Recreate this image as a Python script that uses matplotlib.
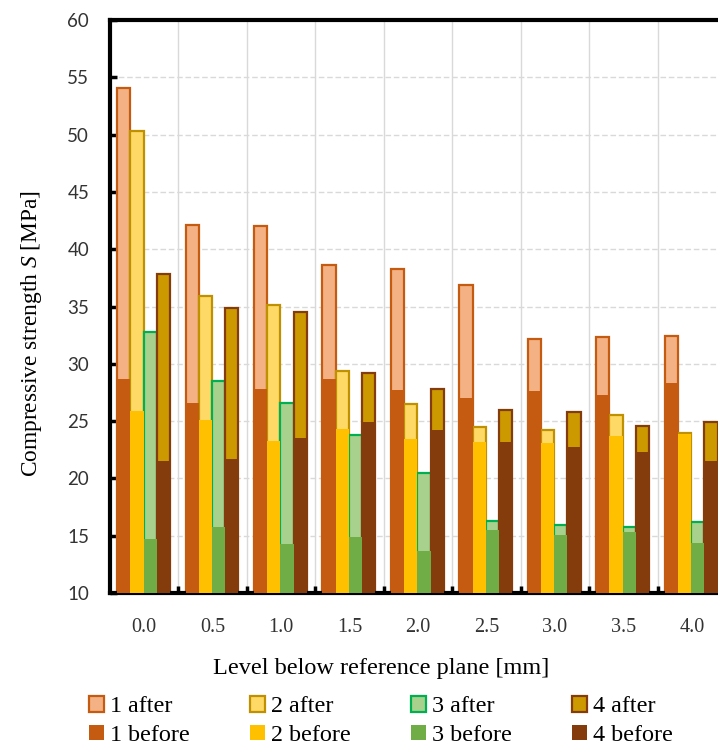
import matplotlib.pyplot as plt
import numpy as np

plt.rcParams['mathtext.fontset'] = 'custom'
plt.rcParams['mathtext.it'] = 'Liberation Serif:italic'
plt.rcParams['mathtext.rm'] = 'Liberation Serif'

levels = ['0.0', '0.5', '1.0', '1.5', '2.0', '2.5', '3.0', '3.5', '4.0']

# compressive strength after / before, for specimens 1-4
after_1 = [54.1, 42.1, 42.0, 38.6, 38.3, 36.9, 32.2, 32.3, 32.4]
after_2 = [50.3, 35.9, 35.1, 29.4, 26.5, 24.5, 24.2, 25.5, 24.0]
after_3 = [32.8, 28.5, 26.6, 23.8, 20.5, 16.3, 15.9, 15.8, 16.2]
after_4 = [37.8, 34.9, 34.5, 29.2, 27.8, 26.0, 25.8, 24.6, 24.9]

before_1 = [28.7, 26.6, 27.8, 28.7, 27.7, 27.0, 27.6, 27.3, 28.3]
before_2 = [25.9, 25.1, 23.3, 24.3, 23.4, 23.2, 23.1, 23.7, 23.9]
before_3 = [14.7, 15.8, 14.3, 14.9, 13.7, 15.5, 15.1, 15.3, 14.4]
before_4 = [21.5, 21.7, 23.5, 24.9, 24.2, 23.2, 22.7, 22.3, 21.5]

after = [after_1, after_2, after_3, after_4]
before = [before_1, before_2, before_3, before_4]

after_fill = ['#F4B183', '#FFD966', '#A9D18E', '#CC9900']
after_edge = ['#C55A11', '#BF9000', '#00B050', '#843C0C']
before_fill = ['#C55A11', '#FFC000', '#70AD47', '#843C0C']

fig = plt.figure(figsize=(7.18, 7.46), dpi=100)
ax = fig.add_axes([110 / 718, 153 / 746, 616 / 718, 573 / 746])

x = np.arange(len(levels))
w = 0.193
offsets = (np.arange(4) - 1.5) * w - 0.01

handles = []
for i in range(4):
    ha = ax.bar(x + offsets[i], np.array(after[i]) - 10, w, bottom=10,
                color=after_fill[i], edgecolor=after_edge[i], linewidth=1.6,
                zorder=2, label=f'{i + 1} after')
    hb = ax.bar(x + offsets[i], np.array(before[i]) - 10, w, bottom=10,
                color=before_fill[i], linewidth=0, zorder=3,
                label=f'{i + 1} before')
    handles += [ha, hb]

ax.set_xlim(-0.5, len(levels) - 0.5)
ax.set_ylim(10, 60)
ax.set_yticks(np.arange(10, 61, 5))
ax.set_xticks(x)
ax.set_xticklabels(levels, family='Liberation Serif', fontsize=14.5)
ax.set_xticks(x[:-1] + 0.5, minor=True)
for lab in ax.get_yticklabels():
    lab.set_family('Lato')
    lab.set_fontsize(13.5)
    lab.set_color('#333333')
for lab in ax.get_xticklabels():
    lab.set_color('#333333')

ax.tick_params(axis='y', direction='in', length=5, width=2.5, pad=15)
ax.tick_params(axis='x', which='major', length=0, pad=18)
ax.tick_params(axis='x', which='minor', direction='in', length=5, width=2.5)

ax.yaxis.grid(True, color='#d9d9d9', linestyle=(0, (4, 2)), linewidth=1, zorder=0)
ax.xaxis.grid(True, which='minor', color='#d9d9d9', linestyle='-', linewidth=1, zorder=0)
ax.set_axisbelow(True)

for side in ['left', 'bottom', 'top']:
    ax.spines[side].set_linewidth(3)
    ax.spines[side].set_color('black')
ax.spines['right'].set_visible(False)

ax.set_xlabel('Level below reference plane [mm]', family='Liberation Serif',
              fontsize=17.5)
ax.set_ylabel(r'Compressive strength $S$ [MPa]', family='Liberation Serif',
              fontsize=16.8)
ax.xaxis.set_label_coords((381 - 110) / 616, -(658 - 593) / 573)
ax.yaxis.set_label_coords(-(110 - 44) / 616, (593 - 334) / 573)

fig.legend(handles=handles, loc='center', ncol=4,
           bbox_to_anchor=(381 / 718, 1 - 721 / 746), frameon=False,
           prop={'family': 'Liberation Serif', 'size': 17.4},
           handlelength=0.62, handleheight=0.62, handletextpad=0.25,
           columnspacing=2.5, labelspacing=0.3, borderpad=0)

fig.savefig('out.png', dpi=100)
